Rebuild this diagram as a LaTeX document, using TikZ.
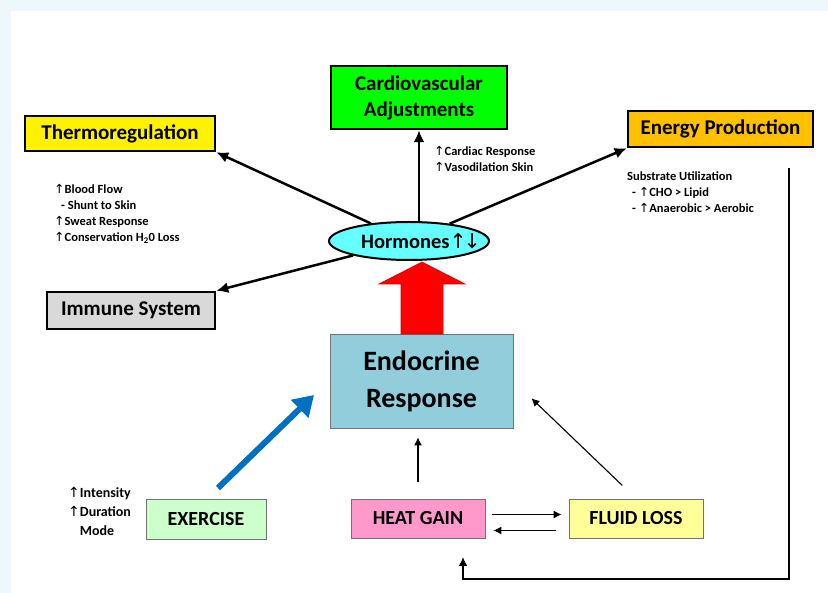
\documentclass[tikz,border=0pt]{standalone}
\usepackage{fontspec}
\setmainfont{Carlito}
\newfontfamily\arwfont{DejaVu Sans}
\usetikzlibrary{shapes.geometric,arrows.meta}
\newcommand{\uparr}{{\arwfont\mdseries ↑}}
\newcommand{\dnarr}{{\arwfont\mdseries ↓}}
\definecolor{bgblue}{RGB}{238,247,252}
\definecolor{orangebox}{RGB}{255,192,0}
\definecolor{graybox}{RGB}{217,217,217}
\definecolor{hormcyan}{RGB}{102,255,255}
\definecolor{endoblue}{RGB}{146,205,220}
\definecolor{exgreen}{RGB}{204,255,204}
\definecolor{heatpink}{RGB}{255,153,204}
\definecolor{fluidyellow}{RGB}{255,255,153}
\definecolor{arrowblue}{RGB}{0,112,192}

\begin{document}
\begin{tikzpicture}[x=1pt,y=-1pt,
  bigbox/.style={draw=black,line width=2.5pt,inner sep=0pt,align=center,
    font=\bfseries\fontsize{21}{26}\selectfont},
  lowbox/.style={draw=black!55,line width=0.8pt,inner sep=0pt,
    font=\bfseries\fontsize{20}{24}\selectfont},
  note/.style={anchor=north west,inner sep=0pt,align=left,
    font=\bfseries\fontsize{12.5}{16}\selectfont},
  link/.style={line width=2.5pt,-{Latex[length=12pt,width=11pt]}},
  flow/.style={line width=1.1pt,-{Latex[length=8pt,width=8pt]}}]
\fill[bgblue] (0,0) rectangle (828,593);
\fill[white] (11,11) rectangle (828,593);
\useasboundingbox (0,0) rectangle (828,593);

\node[bigbox,fill=yellow,minimum width=190pt,minimum height=35pt] (thermo) at (120,133.5) {Thermoregulation};
\node[bigbox,fill=green,minimum width=176pt,minimum height=63pt] (cardio) at (419,97.5) {Cardiovascular\\Adjustments};
\node[bigbox,fill=orangebox,minimum width=185pt,minimum height=36pt] (energy) at (720.5,129) {Energy Production};
\node[bigbox,fill=graybox,minimum width=168pt,minimum height=37pt] (immune) at (131,310.5) {Immune System};
\node[ellipse,draw=black,line width=2pt,fill=hormcyan,inner sep=0pt,minimum width=160pt,minimum height=38pt] (horm) at (409,241) {};
\node[inner sep=0pt,font=\bfseries\fontsize{20.5}{24}\selectfont] (hormtext) at (421,241) {Hormones\uparr\kern-3pt\dnarr};
\node[lowbox,fill=endoblue,minimum width=183pt,minimum height=94pt,align=center,
  font=\bfseries\fontsize{28}{37}\selectfont] (endo) at (421.5,381) {Endocrine\\Response};
\node[lowbox,fill=exgreen,minimum width=120pt,minimum height=40pt] (exer) at (206,519) {EXERCISE};
\node[lowbox,fill=heatpink,minimum width=134pt,minimum height=39pt] (heat) at (418,518.5) {HEAT GAIN};
\node[lowbox,fill=fluidyellow,minimum width=134pt,minimum height=39pt] (fluid) at (636,518.5) {FLUID LOSS};

\node[note] (thermonote) at (54,184) {\uparr Blood Flow\\ \hspace{7pt}- Shunt to Skin\\ \uparr Sweat Response\\ \uparr Conservation H\textsubscript{2}0 Loss};
\node[note] (cardnote) at (434,146.5) {\uparr Cardiac Response\\ \uparr Vasodilation Skin};
\node[note] (energynote) at (627,171.5) {Substrate Utilization\\ \hspace{5pt}- \uparr CHO > Lipid\\ \hspace{5pt}- \uparr Anaerobic > Aerobic};
\node[note,font=\bfseries\fontsize{14}{19}\selectfont] (exnote) at (68,487) {\uparr Intensity\\ \uparr Duration\\ \phantom{\uparr}Mode};

\filldraw[red,draw=red!80!black,line width=0.6pt] (401,334) -- (401,284) -- (379,284) -- (422,262)
  -- (465,284) -- (443,284) -- (443,334) -- cycle;

\draw[link] (horm) -- (thermo.south east);
\draw[link] (horm) -- (immune.north east);
\draw[link] (cardio.south |- horm.north) -- (cardio.south);
\draw[link] (horm) -- (energy.south west);

\coordinate (exstart) at (218,488);
\coordinate (exend) at (314,395);
\draw[arrowblue,line width=6pt,-{Triangle[length=20pt,width=24pt]}] (exstart) -- (exend);

\draw[flow,shorten <=17pt,shorten >=9pt] (heat.north) -- (heat.north |- endo.south);
\draw[flow,shorten <=19pt,shorten >=25pt] (fluid.north) -- (endo.east);
\draw[flow,shorten <=7pt,shorten >=7pt] ([yshift=4pt]heat.east) -- ([yshift=4pt]fluid.west);
\draw[flow,shorten <=13pt,shorten >=8pt] ([yshift=-12pt]fluid.west) -- ([yshift=-12pt]heat.east);

\coordinate (fbtop) at (789,168);
\coordinate (fbcorner) at (789,579);
\coordinate (fbend) at (463,557);
\draw[line width=2pt,-{Latex[length=9pt,width=9pt]}] (fbtop) -- (fbcorner) -| (fbend);
\end{tikzpicture}
\end{document}
